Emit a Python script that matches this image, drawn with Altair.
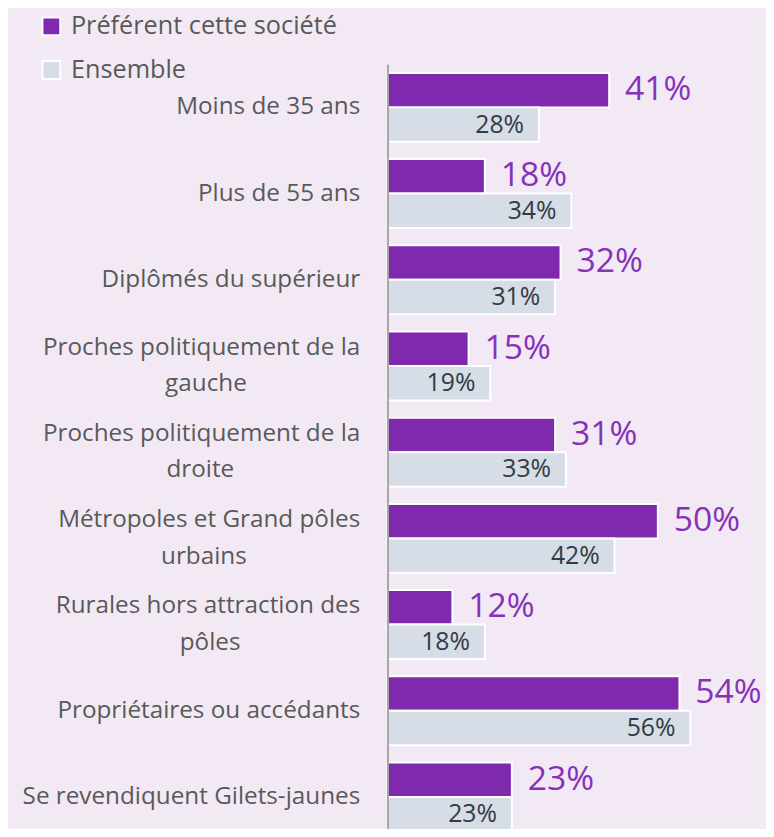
import altair as alt
import pandas as pd

NB = "\u00a0"
END = "\u200b"
categories = [
    "Moins de 35 ans",
    "Plus de 55 ans",
    "Diplômés du supérieur",
    "Proches politiquement de la\ngauche" + NB * 18 + END,
    "Proches politiquement de la\ndroite" + NB * 20 + END,
    "Métropoles et Grand pôles\nurbains" + NB * 18 + END,
    "Rurales hors attraction des\npôles" + NB * 19 + END,
    "Propriétaires ou accédants",
    "Se revendiquent Gilets-jaunes",
]
series = ["Préférent cette société", "Ensemble"]
prefer_values = [41, 18, 32, 15, 31, 50, 12, 54, 23]
ensemble_values = [28, 34, 31, 19, 33, 42, 18, 56, 23]

rows = []
for c, p, e in zip(categories, prefer_values, ensemble_values):
    rows.append({"cat": c, "series": series[0], "value": p, "label": f"{p}%"})
    rows.append({"cat": c, "series": series[1], "value": e, "label": f"{e}%"})
df = pd.DataFrame(rows)

PURPLE = "#7f2aae"
GRAY = "#d6dde6"
BG = "#f2e9f5"
FONT = "Open Sans"

y_enc = alt.Y(
    "cat:N",
    sort=categories,
    scale=alt.Scale(range=[0, 783], paddingInner=0.2, paddingOuter=0.1),
    axis=alt.Axis(
        title=None,
        ticks=False,
        domainColor="#a6a6a6",
        domainWidth=2,
        labelPadding=28,
        labelFontSize=24.5,
        labelFont=FONT,
        labelColor="#595959",
        labelLineHeight=37,
        labelLimit=500,
        labelOffset={
            "condition": {"test": "indexof(datum.value, '\\n') >= 0", "value": -18.5},
            "value": 0,
        },
        labelExpr="split(datum.label, '\\n')",
        grid=False,
        zindex=1,
    ),
)
yoff = alt.YOffset("series:N", sort=series, scale=alt.Scale(paddingInner=0, paddingOuter=0))
x_enc = alt.X("value:Q", scale=alt.Scale(domain=[0, 70]), axis=None)

bars = alt.Chart(df).mark_bar(stroke="white", strokeWidth=2).encode(
    x=x_enc,
    y=y_enc,
    yOffset=yoff,
    color=alt.Color(
        "series:N",
        sort=series,
        scale=alt.Scale(domain=series, range=[PURPLE, GRAY]),
        legend=alt.Legend(
            title=None,
            orient="none",
            legendX=-352,
            legendY=-51,
            symbolType="square",
            symbolSize=324,
            symbolStrokeColor="white",
            symbolStrokeWidth=2,
            symbolOpacity=1,
            labelFontSize=25.5,
            labelFont=FONT,
            labelColor="#595959",
            labelOffset=7,
            labelLimit=500,
            rowPadding=16,
        ),
    ),
)

purple_text = alt.Chart(df).transform_filter(
    alt.datum.series == series[0]
).mark_text(
    align="left", baseline="middle", dx=16, fontSize=34, font=FONT, color="#8632b8"
).encode(x=x_enc, y=y_enc, yOffset=yoff, text="label:N")

gray_text = alt.Chart(df).transform_filter(
    alt.datum.series == series[1]
).mark_text(
    align="right", baseline="middle", dx=-15, fontSize=25, font=FONT, color="#333a44"
).encode(x=x_enc, y=y_enc, yOffset=yoff, text="label:N")

chart = alt.layer(bars, purple_text, gray_text).properties(
    width=382,
    height=768,
    autosize=alt.AutoSizeParams(type="none"),
    padding={"left": 383, "top": 53, "right": 0, "bottom": 0},
    background=BG,
).configure_view(stroke=None)

chart.save("out.html", embed_options={"renderer": "svg", "actions": False})
